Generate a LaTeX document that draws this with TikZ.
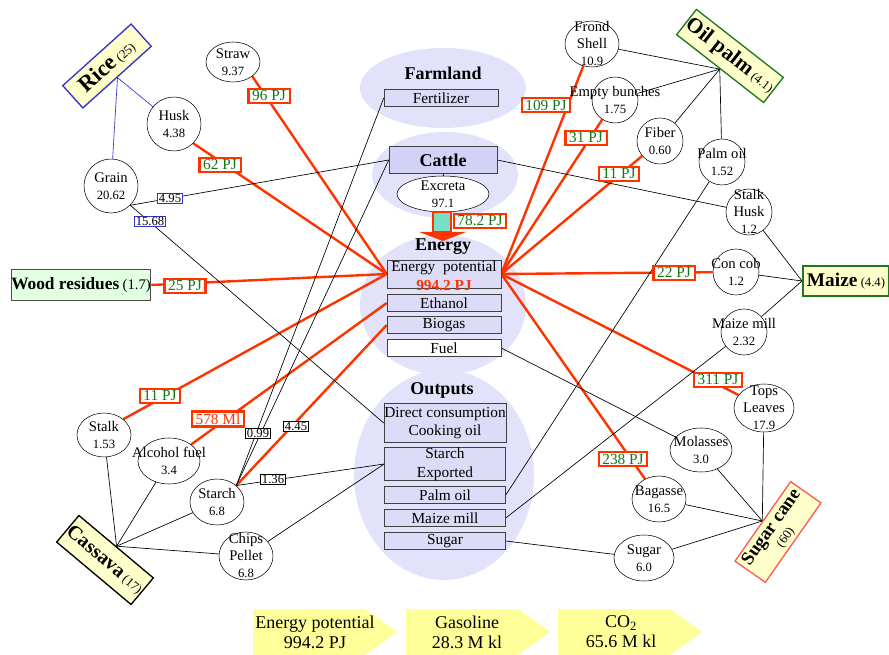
\documentclass[tikz,border=0pt]{standalone}
\usepackage{fontspec}
\setmainfont{Liberation Serif}
\usetikzlibrary{shapes.geometric, backgrounds}

\definecolor{lav}{RGB}{226,226,250}
\definecolor{boxlav}{RGB}{220,220,248}
\definecolor{cattlelav}{RGB}{210,210,246}
\definecolor{flowred}{RGB}{255,51,0}
\definecolor{pjgreen}{RGB}{20,120,20}
\definecolor{cropyellow}{RGB}{255,255,204}
\definecolor{woodgreen}{RGB}{226,255,226}
\definecolor{arrowyellow}{RGB}{255,255,153}
\definecolor{excretateal}{RGB}{120,224,200}
\definecolor{riceblue}{RGB}{51,51,204}
\definecolor{palmgreen}{RGB}{30,120,30}
\definecolor{canered}{RGB}{255,90,90}

\newcommand\namefont{\fontsize{11}{12.75}\selectfont}
\newcommand\valfont{\fontsize{9.5}{11}\selectfont}
\newcommand\pjfont{\fontsize{11.5}{12}\selectfont}
\newcommand\boxfont{\fontsize{11.5}{14}\selectfont}
\newcommand\titlefont{\fontsize{13.5}{15}\selectfont\bfseries}

\tikzset{
res/.style 2 args={
  ellipse,
  draw,
  fill=white,
  inner sep=0pt,
  minimum width=#1,
  minimum height=#2
  },
every label/.style={align=center, font=\namefont, inner sep=0pt},
title/.style={font=\titlefont},
outbox/.style={
  rectangle,
  draw=black!75,
  fill=boxlav,
  minimum width=85.5pt,
  minimum height=12.75pt,
  inner sep=0pt,
  align=center,
  font=\boxfont
  },
pj/.style={
  rectangle,
  draw=flowred,
  line width=1.6pt,
  fill=white,
  text=pjgreen,
  inner xsep=2.8pt,
  inner ysep=1.6pt,
  font=\pjfont
  },
val/.style={rectangle, draw, fill=white, inner xsep=1pt, inner ysep=0.5pt, font=\valfont},
crop/.style={rectangle, draw, line width=1pt, fill=cropyellow, inner sep=1pt, align=center},
goal/.style={align=center, font=\fontsize{13.5}{15}\selectfont},
flow/.style={draw=flowred, line width=1.8pt},
link/.style={draw=black, line width=0.5pt}
}

\begin{document}
\begin{tikzpicture}[x=0.75pt, y=-0.75pt]
\useasboundingbox (0,0) rectangle (889,655);

\node[title]	(farmtitle)		at (443,73)		{Farmland};
\node[title]	(energytitle)	at (443,247)	{Energy};
\node[title]	(outtitle)		at (442,390)	{Outputs};

\node[outbox]	(fert)		at (441,98)		{Fertilizer};
\node[outbox, fill=cattlelav, font=\titlefont, minimum width=81pt, minimum height=20.25pt]	(cattle)	at (443,160)	{Cattle};
\node[res={69pt}{27pt}, label={center:{Excreta\\{\valfont 97.1}}}]	(excreta)	at (443,194)	{};
\node[outbox, minimum height=21pt, label={[yshift=-1.5pt, font=\boxfont]center:{Energy~ potential\\\textcolor{flowred}{\bfseries 994.2 PJ}}}]	(energy)	at (444,274)	{};
\node[outbox]	(ethanol)	at (444,303)	{Ethanol};
\node[outbox]	(biogas)	at (444,325)	{Biogas};
\node[outbox, fill=white]	(fuel)	at (444,348)	{Fuel};
\node[outbox, minimum width=91.5pt, minimum height=29.25pt]	(direct)	at (445,423)	{Direct consumption\\Cooking oil};
\node[outbox, minimum width=90.75pt, minimum height=23.25pt]	(exported)	at (445,464)	{Starch\\Exported};
\node[outbox, minimum width=90.75pt]	(palmoilbox)	at (445,495)	{Palm oil};
\node[outbox, minimum width=90.75pt]	(maizemillbox)	at (445,518)	{Maize mill};
\node[outbox, minimum width=90.75pt]	(sugarbox)	at (445,541)	{Sugar};

\node[crop, draw=riceblue, rotate=42, minimum width=69pt, minimum height=22.5pt]	(rice)	at (107,66)	{{\fontsize{17}{17}\selectfont\bfseries Rice} {\valfont(25)}};
\node[res={40.5pt}{30pt}, label={center:{Straw\\{\valfont 9.37}}}]	(straw)	at (233,62)	{};
\node[res={40.5pt}{40.5pt}, label={center:{Husk\\{\valfont 4.38}}}]	(husk)	at (174,124)	{};
\node[res={40.5pt}{40.5pt}, label={center:{Grain\\{\valfont 20.62}}}]	(grain)	at (111,186)	{};
\node[rectangle, draw=black!70, line width=0.8pt, fill=woodgreen, minimum width=103.5pt, minimum height=23.25pt, inner sep=0pt]	(wood)	at (81,285)	{{\fontsize{13}{14}\selectfont\bfseries Wood residues} {\fontsize{11}{12}\selectfont(1.7)}};
\node[res={40.5pt}{33pt}, label={center:{Stalk\\{\valfont 1.53}}}]	(stalkc)	at (104,435)	{};
\node[res={46.5pt}{34.5pt}, label={center:{Alcohol fuel\\{\valfont 3.4}}}]	(alcohol)	at (169,461)	{};
\node[res={40.5pt}{34.5pt}, label={center:{Starch\\{\valfont 6.8}}}]	(starch)	at (217,502)	{};
\node[res={40.5pt}{36pt}, label={center:{Chips\\Pellet\\{\valfont 6.8}}}]	(chips)	at (246,556)	{};
\node[crop, draw=black, rotate=-40, minimum width=69pt, minimum height=26pt]	(cassava)	at (105,560)	{{\fontsize{15}{15}\selectfont\bfseries Cassava} {\valfont(17)}};

\node[crop, draw=palmgreen, rotate=-38, minimum width=72.75pt, minimum height=24pt]	(oilpalm)	at (730,56)	{{\fontsize{16}{16}\selectfont\bfseries Oil palm} {\valfont(4.1)}};
\node[res={40.5pt}{34.5pt}, label={center:{Frond\\Shell\\{\valfont 10.9}}}]	(frond)	at (592,44)	{};
\node[res={34.5pt}{34.5pt}, label={center:{Empty bunches\\{\valfont 1.75}}}]	(empty)	at (615,100)	{};
\node[res={34.5pt}{34.5pt}, label={center:{Fiber\\{\valfont 0.60}}}]	(fiber)	at (660,141)	{};
\node[res={34.5pt}{34.5pt}, label={center:{Palm oil\\{\valfont 1.52}}}]	(palmoilc)	at (722,162)	{};
\node[res={34.5pt}{34.5pt}, label={center:{Stalk\\Husk\\{\valfont 1.2}}}]	(stalkhusk)	at (749,212)	{};
\node[res={34.5pt}{34.5pt}, label={center:{Con cob\\{\valfont 1.2}}}]	(concob)	at (736,272)	{};
\node[res={34.5pt}{34.5pt}, label={center:{Maize mill\\{\valfont 2.32}}}]	(maizemillc)	at (744,332)	{};
\node[crop, draw=palmgreen, line width=1.5pt, minimum width=64.5pt, minimum height=22pt]	(maize)	at (846,281)	{{\fontsize{14.5}{15}\selectfont\bfseries Maize} {\valfont(4.4)}};
\node[res={45pt}{36pt}, label={center:{Tops\\Leaves\\{\valfont 17.9}}}]	(tops)	at (764,408)	{};
\node[res={46.5pt}{33pt}, label={center:{Molasses\\{\valfont 3.0}}}]	(molasses)	at (701,450)	{};
\node[res={40.5pt}{34.5pt}, label={center:{Bagasse\\{\valfont 16.5}}}]	(bagasse)	at (659,499)	{};
\node[res={45pt}{34.5pt}, label={center:{Sugar\\{\valfont 6.0}}}]	(sugarc)	at (644,558)	{};
\node[crop, draw=canered, rotate=55, minimum width=72.75pt, minimum height=27.75pt, font=\fontsize{14}{12}\selectfont]	(cane)	at (778,532)	{{\bfseries Sugar cane}\\{\valfont(60)}};

\node[pj]	(pj96)		at (269,96)		{96 PJ};
\node[pj]	(pj62)		at (220,165)	{62 PJ};
\node[pj]	(pj25)		at (185,286)	{25 PJ};
\node[pj]	(pj11a)		at (160,396)	{11 PJ};
\node[pj, text=flowred]	(ml578)	at (218,419)	{578 Ml};
\node[pj]	(pj78)		at (480,221)	{78.2 PJ};
\node[pj]	(pj109)		at (546,105)	{109 PJ};
\node[pj]	(pj31)		at (586,138)	{31 PJ};
\node[pj]	(pj11b)		at (619,174)	{11 PJ};
\node[pj]	(pj22)		at (674,273)	{22 PJ};
\node[pj]	(pj311)		at (718,380)	{311 PJ};
\node[pj]	(pj238)		at (623,459)	{238 PJ};
\node[val, draw=riceblue]	(val495)	at (170,198)	{4.95};
\node[val, draw=riceblue]	(val1568)	at (150,221)	{15.68};
\node[val]	(val099)	at (258,433)	{0.99};
\node[val]	(val445)	at (296,426)	{4.45};
\node[val]	(val136)	at (273,479)	{1.36};

\filldraw[fill=excretateal, draw=flowred, line width=1pt] (433,212) rectangle (451,232);
\fill[flowred] (419,232) -- (466,232) -- (443,241) -- cycle;

\fill[arrowyellow] (253,609) -- (365,609) -- (397,632) -- (365,655) -- (253,655) -- cycle;
\fill[arrowyellow] (406,609) -- (518,609) -- (550,632) -- (518,655) -- (406,655) -- cycle;
\fill[arrowyellow] (558,609) -- (670,609) -- (702,632) -- (670,655) -- (558,655) -- cycle;
\node[goal]	(potential)	at (315,632)	{Energy potential\\994.2 PJ};
\node[goal]	(gasoline)	at (467,632)	{Gasoline\\28.3 M kl};
\node[goal]	(cotwo)		at (621,632)	{CO\textsubscript{2}\\65.6 M kl};

\begin{scope}[on background layer]
\fill[lav] (443,88) ellipse (62.25pt and 30pt);
\fill[lav] (445,175) ellipse (54.75pt and 32.25pt);
\fill[lav] (443,305) ellipse (62.25pt and 52.5pt);
\fill[lav] (444,475) ellipse (67.5pt and 78.75pt);

\draw[flow]	(straw.south east)	--	(energy.west);
\draw[flow]	(husk.south east)	--	(energy.west);
\draw[flow]	(wood.east)			--	(energy.west);
\draw[flow]	(stalkc.north east)	--	(energy.west);
\draw[flow]	(alcohol.north east)	--	(ethanol.west);
\draw[flow]	(starch.north east)	--	(biogas.west);
\draw[flow]	(energy.east)		--	(frond);
\draw[flow]	(energy.east)		--	(empty);
\draw[flow]	(energy.east)		--	(fiber);
\draw[flow]	(energy.east)		--	(concob);
\draw[flow]	(energy.east)		--	(tops);
\draw[flow]	(energy.east)		--	(bagasse);

\draw[link, draw=riceblue]	(rice.south)	--	(husk);
\draw[link, draw=riceblue]	(rice.south)	--	(grain);
\draw[link]	(grain.south east)	--	(cattle.west);
\draw[link]	(grain.south east)	--	(direct.west);
\draw[link]	(starch.north east)	--	(fert.west);
\draw[link]	(starch.north east)	--	(cattle.west);
\draw[link]	(starch.north east)	--	(exported.west);
\draw[link]	(chips)			--	(exported.west);
\draw[link]	(cassava.north)	--	(stalkc);
\draw[link]	(cassava.north)	--	(alcohol);
\draw[link]	(cassava.north)	--	(starch);
\draw[link]	(cassava.north)	--	(chips);
\draw[link]	(cattle.south)	--	(excreta);
\draw[link]	(cattle.east)	--	(stalkhusk);
\draw[link]	(fuel.east)		--	(molasses);
\draw[link]	(palmoilbox.east)	--	(palmoilc);
\draw[link]	(maizemillbox.east)	--	(maizemillc);
\draw[link]	(sugarbox.east)	--	(sugarc);
\draw[link]	(oilpalm.south)	--	(frond);
\draw[link]	(oilpalm.south)	--	(empty);
\draw[link]	(oilpalm.south)	--	(fiber);
\draw[link]	(oilpalm.south)	--	(palmoilc);
\draw[link]	(maize.west)	--	(stalkhusk);
\draw[link]	(maize.west)	--	(concob);
\draw[link]	(maize.west)	--	(maizemillc);
\draw[link]	(cane.north)	--	(tops);
\draw[link]	(cane.north)	--	(molasses);
\draw[link]	(cane.north)	--	(bagasse);
\draw[link]	(cane.north)	--	(sugarc);
\end{scope}
\end{tikzpicture}
\end{document}
